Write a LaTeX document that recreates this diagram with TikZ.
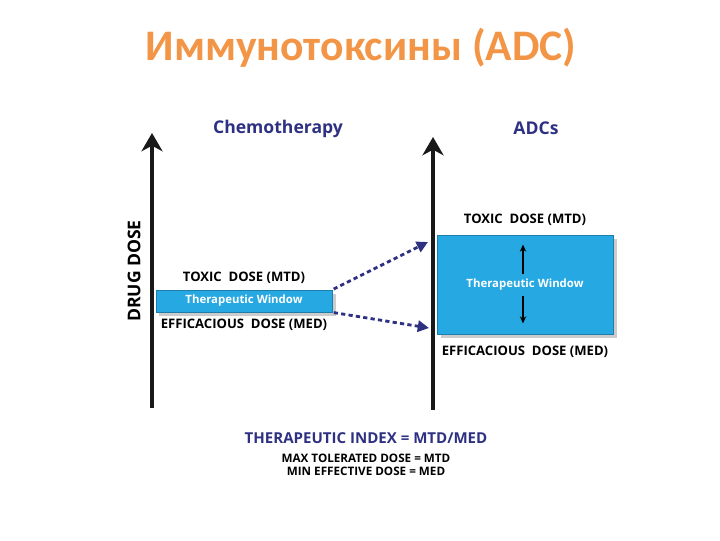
\documentclass[tikz,border=0pt]{standalone}
\usepackage{fontspec}
\setmainfont{Open Sans}
\newfontfamily\titlefont{Carlito}
\usetikzlibrary{positioning, arrows.meta, shadows, calc}

\definecolor{titleorange}{RGB}{243,149,70}
\definecolor{labelblue}{RGB}{46,49,130}
\definecolor{winblue}{RGB}{38,168,226}

\begin{document}
\begin{tikzpicture}[x=0.025cm, y=-0.025cm,
		% Define styles for the nodes
		heading/.style={
			font=\bfseries\fontsize{12.5}{14}\selectfont, text=labelblue, inner sep=1pt
		},
		doselabel/.style={
			font=\bfseries\fontsize{9.3}{11}\selectfont, text=black, inner sep=1pt
		},
		window/.style={
			rectangle, fill=winblue, draw=winblue!75!black, line width=0.5pt,
			text=white, font=\bfseries\fontsize{8.1}{9}\selectfont,
			drop shadow={shadow xshift=2.5pt, shadow yshift=-2.5pt, opacity=0.4}
		},
		indexline/.style={
			font=\bfseries\fontsize{8.3}{9}\selectfont, text=black, inner sep=1pt
		},
		axis/.style={
			-{Stealth[width=15pt, length=13pt, inset=4pt]}, line width=3pt, draw=black!90
		},
		dosearrow/.style={
			-{Triangle[width=8pt, length=8pt]}, line width=2pt, draw=labelblue,
			dash pattern=on 3pt off 2.3pt, shorten <=1pt
		},
		span/.style={
			-{Stealth[width=4.5pt, length=5pt]}, line width=1pt, draw=black
		}
		]
		
		\useasboundingbox (0,0) rectangle (720,540);
		
		% Title
		\node[font=\titlefont\bfseries\fontsize{31}{34}\selectfont, text=titleorange] (title) at (361,48) {Иммунотоксины (ADC)};
		
		% Column headings
		\node[heading] (chemohead) at (278,129) {Chemotherapy};
		\node[heading] (adchead) at (536,128) {ADCs};
		\node[heading, text=black, rotate=90] (dose) at (134,271) {DRUG DOSE};
		
		% Axes
		\coordinate (chemobase) at (152,408);
		\coordinate (chemotop) at (152,133);
		\coordinate (adcbase) at (433,410);
		\coordinate (adctop) at (433,137);
		\draw[axis] (chemobase) -- (chemotop);
		\draw[axis] (adcbase) -- (adctop);
		
		% Therapeutic windows
		\node[window, minimum width=4.4cm, minimum height=0.55cm] (chemowin) at (244,301) {Therapeutic Window};
		\node[window, minimum width=4.4cm, minimum height=2.475cm] (adcwin) at (525,284.5) {Therapeutic Window};
		
		\node[doselabel, above=3pt of chemowin] (chemotox) {TOXIC\ \ DOSE (MTD)};
		\node[doselabel, below=3.5pt of chemowin] (chemoeff) {EFFICACIOUS\ \ DOSE (MED)};
		\node[doselabel, above=5.5pt of adcwin.north] (adctox) {TOXIC\ \ DOSE (MTD)};
		\node[doselabel, below=7pt of adcwin.south] (adceff) {EFFICACIOUS\ \ DOSE (MED)};
		
		% Window span inside the ADC box
		\coordinate (spanup) at ($(adcwin.north)+(-2,10)$);
		\coordinate (spandown) at ($(adcwin.south)+(-2,-11)$);
		\draw[span] ($(adcwin.center)+(-2,-11)$) -- (spanup);
		\draw[span] ($(adcwin.center)+(-2,11)$) -- (spandown);
		
		% Dashed connections between the two windows
		\coordinate (toxend) at (428,242);
		\coordinate (effend) at (429,328);
		\draw[dosearrow] (chemowin.north east) -- (toxend);
		\draw[dosearrow] (chemowin.south east) -- (effend);
		
		% Therapeutic index
		\node[heading, font=\bfseries\fontsize{10.7}{12}\selectfont] (tindex) at (366,438) {THERAPEUTIC INDEX = MTD/MED};
		\node[indexline, below=5pt of tindex] (mtd) {MAX TOLERATED DOSE = MTD};
		\node[indexline, below=1pt of mtd] (med) {MIN EFFECTIVE DOSE = MED};
		
	\end{tikzpicture}
\end{document}
